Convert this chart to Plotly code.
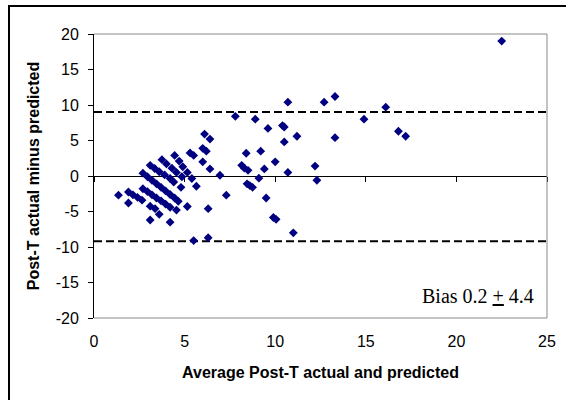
import plotly.graph_objects as go

# Average of actual and predicted (x) and difference actual - predicted (y)
avg_vals = [
    # right / sparse part
    22.5, 14.9, 16.1, 16.8, 17.2, 10.7, 12.7, 13.3, 7.8, 8.9, 9.6, 10.4, 10.5,
    11.2, 13.3, 10.5, 6.1, 6.4, 6.0, 6.2, 8.4, 9.2, 6.0, 6.4, 10.0, 8.15, 8.3,
    8.5, 9.4, 10.7, 6.95, 9.1, 12.2, 12.3, 8.45, 8.6, 8.75, 7.3, 9.5, 6.3,
    9.9, 10.05, 6.3, 11.0, 5.5,
    # cluster singles
    1.35, 1.9, 3.1, 3.6, 4.2, 3.1, 3.37, 5.15, 5.65, 4.8, 4.4, 5.3, 5.5,
    # cluster streaks
    1.9, 2.15, 2.4, 2.65,
    2.7, 2.95, 3.2, 3.45, 3.7, 3.95, 4.2, 4.45, 4.65,
    2.7, 2.95, 3.2, 3.45, 3.7, 3.95, 4.2, 4.55,
    3.1, 3.35, 3.6, 3.9, 4.2,
    3.75, 4.0, 4.3, 4.55, 4.85,
    4.45, 4.7, 4.9, 5.15, 5.4,
]
diff_vals = [
    19.0, 8.0, 9.7, 6.3, 5.6, 10.4, 10.4, 11.2, 8.4, 8.0, 6.7, 7.1, 6.9,
    5.6, 5.4, 4.8, 5.9, 5.2, 3.9, 3.5, 3.2, 3.5, 2.0, 1.0, 2.0, 1.5, 1.1,
    0.8, 1.0, 0.5, 0.1, -0.3, 1.4, -0.6, -1.1, -1.35, -1.6, -2.7, -3.1, -4.6,
    -5.85, -6.1, -8.7, -8.0, -9.1,
    -2.7, -3.8, -6.2, -5.4, -6.5, -4.25, -4.6, -4.3, -1.45, -1.6, -0.85, 3.25, 2.9,
    -2.25, -2.65, -3.0, -3.4,
    0.4, -0.1, -0.6, -1.1, -1.6, -2.1, -2.6, -3.1, -3.55,
    -1.8, -2.2, -2.65, -3.1, -3.5, -3.95, -4.4, -4.8,
    1.5, 1.05, 0.6, 0.15, -0.35,
    2.3, 1.7, 1.1, 0.5, -0.1,
    2.9, 2.1, 1.3, 0.5, -0.35,
]

upper_limit = 9.0
lower_limit = -9.2
x_ticks = [0, 5, 10, 15, 20, 25]
y_ticks = [20, 15, 10, 5, 0, -5, -10, -15, -20]
bias_text = "Bias 0.2 <u>+</u> 4.4"

W, H = 566, 400
ML, MR, MT, MB = 94, 19, 34, 82
pw = W - ML - MR
ph = H - MT - MB

fig = go.Figure()
fig.add_trace(go.Scatter(
    x=avg_vals, y=diff_vals, mode="markers",
    marker=dict(symbol="diamond", size=6.8, color="#000080", line=dict(width=0)),
    showlegend=False, hoverinfo="skip",
))
# helper empty trace so the zero-crossing axis is drawn
fig.add_trace(go.Scatter(x=[], y=[], xaxis="x2", yaxis="y", showlegend=False))

font_sans = "Liberation Sans, Arial, sans-serif"

fig.update_layout(
    template="none",
    width=W, height=H,
    margin=dict(l=ML, r=MR, t=MT, b=MB, autoexpand=False),
    paper_bgcolor="white", plot_bgcolor="white",
    font=dict(family=font_sans, size=16, color="black"),
    xaxis=dict(
        range=[0, 25], tickvals=x_ticks, ticktext=[str(v) for v in x_ticks],
        showgrid=False, zeroline=False, showline=False, ticks="", automargin=False,
        ticklabelstandoff=12,
        title=dict(text="<b>Average Post-T actual and predicted</b>", standoff=17,
                   font=dict(size=16)),
    ),
    xaxis2=dict(
        range=[0, 25], tickvals=x_ticks, overlaying="x", anchor="free", position=0.5,
        showgrid=False, zeroline=False, showline=True, linecolor="black", linewidth=1,
        ticks="outside", ticklen=5, tickcolor="black", showticklabels=False,
        layer="below traces", automargin=False,
    ),
    yaxis=dict(
        range=[-20, 20], tickvals=y_ticks, ticktext=[str(v) for v in y_ticks],
        showgrid=False, zeroline=False, showline=True, linecolor="black", linewidth=1,
        ticks="outside", ticklen=5, tickcolor="black", ticklabelstandoff=6,
        automargin=False,
        title=dict(text="<b>Post-T actual minus predicted</b>", standoff=12,
                   font=dict(size=16)),
    ),
)

# limits of agreement
for lim in (upper_limit, lower_limit):
    fig.add_shape(type="line", xref="paper", yref="y", x0=0, x1=1, y0=lim, y1=lim,
                  line=dict(color="black", width=2, dash="8px,4px"), layer="below")

# gray plot-area frame (top, right, bottom)
gray = "#888888"
fig.add_shape(type="line", xref="paper", yref="paper", x0=0, x1=1, y0=1, y1=1,
              line=dict(color=gray, width=1))
fig.add_shape(type="line", xref="paper", yref="paper", x0=1, x1=1, y0=0, y1=1,
              line=dict(color=gray, width=1))
fig.add_shape(type="line", xref="paper", yref="paper", x0=0, x1=1, y0=0, y1=0,
              line=dict(color=gray, width=1))

# outer chart border (left and top visible)
fig.add_shape(type="rect", xref="paper", yref="paper",
              x0=-(ML - 9) / pw, x1=3.0, y0=-3.0, y1=1 + (MT - 6) / ph,
              line=dict(color="black", width=2), fillcolor="rgba(0,0,0,0)", layer="above")

fig.add_annotation(
    x=24.4, y=-16.9, xref="x", yref="y", text=bias_text, showarrow=False,
    xanchor="right", yanchor="middle",
    font=dict(family="Liberation Serif, Times New Roman, serif", size=20, color="black"),
)

fig.write_html(
    "out.html",
    config={"displayModeBar": False},
    post_script="document.body.style.margin='0px';document.body.style.overflow='hidden';",
)
